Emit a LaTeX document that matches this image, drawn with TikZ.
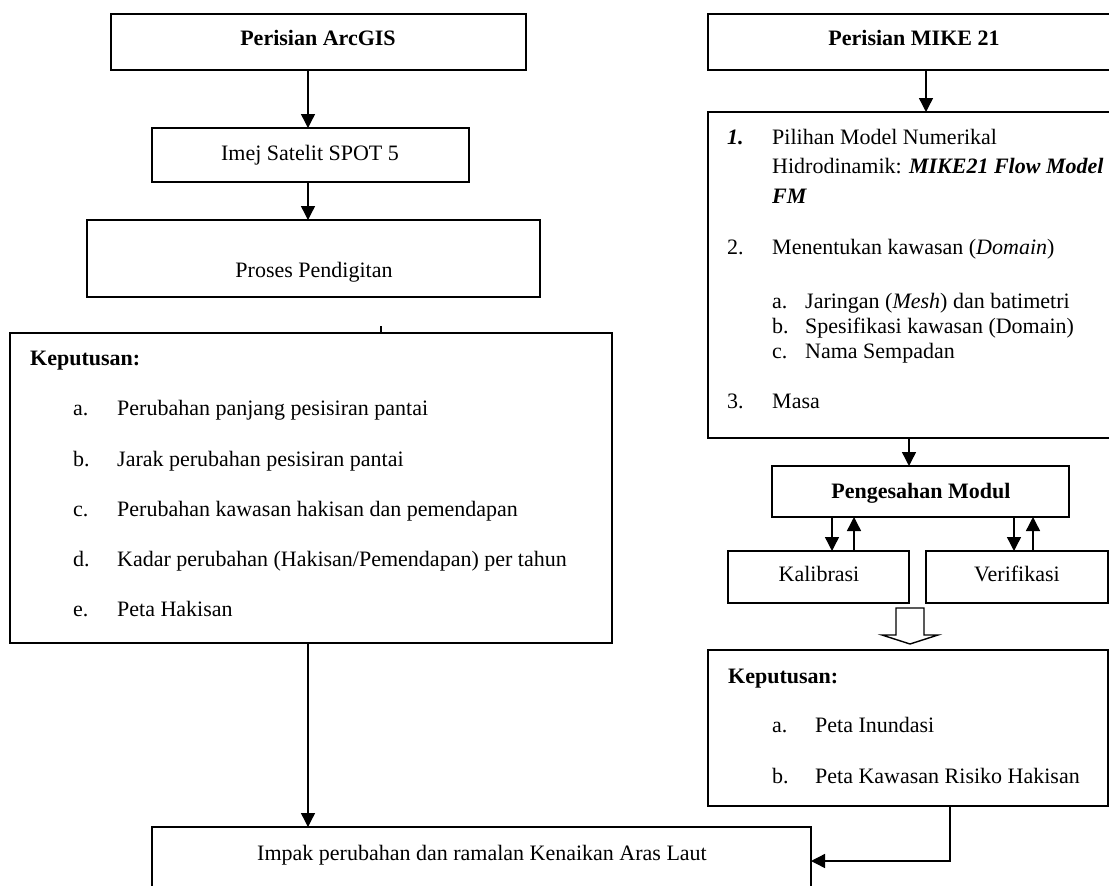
\documentclass[tikz,border=0pt]{standalone}
\usepackage{fontspec}
\setmainfont{Liberation Serif}
\usetikzlibrary{arrows.meta}
\begin{document}
\begin{tikzpicture}[x=1pt,y=-1pt,
  box/.style={draw, line width=1.6pt, inner sep=0pt, outer sep=0pt, rectangle},
  txt/.style={inner sep=0pt, font=\fontsize{22}{26}\selectfont, anchor=mid west, yshift=-6pt},
  ctxt/.style={inner sep=0pt, font=\fontsize{22}{26}\selectfont, anchor=mid, yshift=-6pt},
  arr/.style={line width=1.4pt, -{Triangle[length=14pt,width=14pt]}},
  plain/.style={line width=1.4pt}]
\clip (0,0) rectangle (1109,886);
\fill[white] (0,0) rectangle (1109,886);
% ---------- left column ----------
\node[box, minimum width=415pt, minimum height=56pt] (arc) at (318.5,42) {};
\node[ctxt] (arct) at (318,37) {\textbf{Perisian ArcGIS}};
\node[box, minimum width=317pt, minimum height=54pt] (imej) at (310.5,155) {};
\node[ctxt] (imejt) at (310,152) {Imej Satelit SPOT 5};
\node[box, minimum width=453pt, minimum height=77pt] (proses) at (313.5,258.5) {};
\node[ctxt] (prosest) at (314,269) {Proses Pendigitan};
\node[box, minimum width=602pt, minimum height=310pt] (kepL) at (311,488) {};
\node[txt] (kepLh) at (30,357) {\textbf{Keputusan:}};
\node[txt] (la) at (73,407) {a.};
\node[txt] (lat) at (117,407) {Perubahan panjang pesisiran pantai};
\node[txt] (lb) at (73,458) {b.};
\node[txt] (lbt) at (117,458) {Jarak perubahan pesisiran pantai};
\node[txt] (lc) at (73,508) {c.};
\node[txt] (lct) at (117,508) {Perubahan kawasan hakisan dan pemendapan};
\node[txt] (ld) at (73,558) {d.};
\node[txt] (ldt) at (117,558) {Kadar perubahan (Hakisan/Pemendapan) per tahun};
\node[txt] (le) at (73,608) {e.};
\node[txt] (let) at (117,608) {Peta Hakisan};
\node[box, minimum width=659pt, minimum height=78pt] (bot) at (481.5,866) {};
\node[ctxt] (bott) at (482,852) {Impak perubahan dan ramalan Kenaikan Aras Laut};
% ---------- right column ----------
\node[box, minimum width=432pt, minimum height=56pt] (mike) at (924,42) {};
\node[ctxt] (miket) at (914,37) {\textbf{Perisian MIKE 21}};
\node[box, minimum width=432pt, minimum height=326pt] (list) at (924,275) {};
\node[txt] (n1) at (727,136) {\textbf{\textit{1.}}};
\node[txt] (n1a) at (772,136) {Pilihan Model Numerikal};
\node[txt] (n1b) at (772,165) {Hidrodinamik: \textbf{\textit{MIKE21 Flow Model}}};
\node[txt] (n1c) at (772,195) {\textbf{\textit{FM}}};
\node[txt] (n2) at (727,246) {2.};
\node[txt] (n2a) at (772,246) {Menentukan kawasan (\textit{Domain})};
\node[txt] (sa) at (772,300) {a.};
\node[txt] (sat) at (805,300) {Jaringan (\textit{Mesh}) dan batimetri};
\node[txt] (sb) at (772,325) {b.};
\node[txt] (sbt) at (805,325) {Spesifikasi kawasan (Domain)};
\node[txt] (sc) at (772,350) {c.};
\node[txt] (sct) at (805,350) {Nama Sempadan};
\node[txt] (n3) at (727,400) {3.};
\node[txt] (n3a) at (772,400) {Masa};
\node[box, minimum width=297pt, minimum height=51pt] (peng) at (920.5,491.5) {};
\node[ctxt] (pengt) at (921,490) {\textbf{Pengesahan Modul}};
\node[box, minimum width=181pt, minimum height=52pt] (kal) at (818.5,577) {};
\node[ctxt] (kalt) at (819,573) {Kalibrasi};
\node[box, minimum width=182pt, minimum height=52pt] (ver) at (1017,577) {};
\node[ctxt] (vert) at (1017,573) {Verifikasi};
\node[box, minimum width=400pt, minimum height=156pt] (kepR) at (908,728) {};
\node[txt] (kepRh) at (728,675) {\textbf{Keputusan:}};
\node[txt] (ra) at (772,724) {a.};
\node[txt] (rat) at (815,724) {Peta Inundasi};
\node[txt] (rb) at (772,775) {b.};
\node[txt] (rbt) at (815,775) {Peta Kawasan Risiko Hakisan};
% ---------- connectors ----------
\coordinate (colL) at (308,0);
\coordinate (tick) at (381,326);
\coordinate (colM) at (926,0);
\coordinate (colP) at (909,0);
\coordinate (k1) at (832,0);
\coordinate (k2) at (854,0);
\coordinate (v1) at (1014,0);
\coordinate (v2) at (1033,0);
\coordinate (colR) at (950,0);
\coordinate (botin) at (811,861);
\draw[arr] (colL |- arc.south) -- (colL |- imej.north);
\draw[arr] (colL |- imej.south) -- (colL |- proses.north);
\draw[plain] (tick) -- (tick |- kepL.north);
\draw[arr] (colL |- kepL.south) -- (colL |- bot.north);
\draw[arr] (colM |- mike.south) -- (colM |- list.north);
\draw[arr] (colP |- list.south) -- (colP |- peng.north);
\draw[arr] (k1 |- peng.south) -- (k1 |- kal.north);
\draw[arr] (k2 |- kal.north) -- (k2 |- peng.south);
\draw[arr] (v1 |- peng.south) -- (v1 |- ver.north);
\draw[arr] (v2 |- ver.north) -- (v2 |- peng.south);
\draw[arr] (colR |- kepR.south) |- (botin);
% hollow block arrow
\draw[line width=1.4pt, fill=white] (896,608) -- (924,608) -- (924,635) -- (938,635) -- (910,644) -- (882,635) -- (896,635) -- cycle;
\end{tikzpicture}
\end{document}
